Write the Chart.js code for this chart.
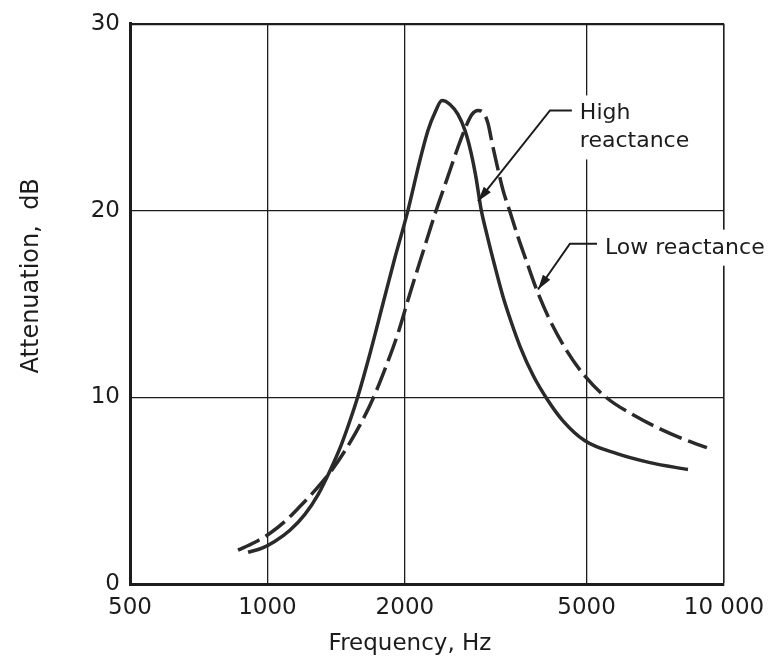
<!DOCTYPE html>
<html>
<head>
<meta charset="utf-8">
<script src="https://cdn.jsdelivr.net/npm/chart.js@4.4.1/dist/chart.umd.min.js"></script>
<style>
  html, body { margin: 0; padding: 0; background: #ffffff; }
  #wrap { width: 780px; height: 660px; }
</style>
</head>
<body>
<div id="wrap"><canvas id="c" width="780" height="660"></canvas></div>
<script>
// ---------- data ----------
const xTicks = [500, 1000, 2000, 5000, 10000];
const xTickLabels = ['500', '1000', '2000', '5000', '10 000'];
const yTicks = [0, 10, 20, 30];

// High reactance (solid curve)
const highFreq = [907, 973, 1039, 1120, 1208, 1291, 1371, 1449, 1516, 1579, 1678, 1791, 1902, 2022, 2158, 2247, 2328, 2412,
                  2511, 2614, 2708, 2791, 2862, 2936, 3026, 3150, 3280, 3415, 3574, 3815, 4095, 4439, 4960, 5829, 6885, 8338];
const highDb   = [1.70, 1.92, 2.29, 2.88, 3.73, 4.79, 6.07, 7.41, 8.74, 10.07, 12.36, 15.02, 17.47, 19.82, 22.70, 24.29, 25.25, 25.89,
                  25.68, 25.15, 24.29, 23.12, 21.79, 20.09, 18.70, 17.00, 15.40, 14.07, 12.73, 11.19, 9.91, 8.74, 7.67, 6.98, 6.50, 6.13];

// Low reactance (dashed curve)
const lowFreq = [862, 939, 1013, 1093, 1179, 1271, 1371, 1479, 1595, 1694, 1809, 1932, 2052, 2192, 2328, 2473, 2614, 2722, 2805, 2891,
                 2980, 3041, 3103, 3183, 3280, 3398, 3538, 3702, 3893, 4158, 4530, 4960, 5540, 6320, 7240, 8213, 9175];
const lowDb   = [1.81, 2.24, 2.72, 3.36, 4.16, 5.01, 5.97, 7.14, 8.52, 9.80, 11.51, 13.43, 15.56, 17.79, 19.82, 21.68, 23.39, 24.51, 25.15, 25.36,
                 25.20, 24.67, 23.65, 22.43, 21.10, 19.93, 18.59, 17.21, 15.72, 14.12, 12.47, 11.13, 9.96, 9.06, 8.31, 7.73, 7.30];

const seriesNames = ['High reactance', 'Low reactance'];
const xTitle = 'Frequency, Hz';
const yTitle = 'Attenuation,  dB';

// annotation anchors (data coordinates)
const annotations = [
  { lines: ['High', 'reactance'], tip: [2892, 20.5], elbow: [4158, 25.36], text: [4834, 24.88] },
  { lines: ['Low reactance'],      tip: [3914, 15.77], elbow: [4597, 18.22], text: [5487, 17.69] }
];

// ---------- styling ----------
const INK = '#1c1c1c';
const CURVE = '#2a2a2a';
const FONT = "'DejaVu Sans', sans-serif";
Chart.defaults.font.family = FONT;
Chart.defaults.color = INK;

function pts(xs, ys) { return xs.map((x, i) => ({ x: x, y: ys[i] })); }

const annotationPlugin = {
  id: 'annot',
  beforeDatasetsDraw(chart) {
    const ctx = chart.ctx;
    const xs = chart.scales.x, ys = chart.scales.y;
    ctx.save();
    ctx.font = '22px ' + FONT;
    ctx.fillStyle = '#ffffff';
    annotations.forEach(a => {
      const tx = xs.getPixelForValue(a.text[0]);
      const ty = ys.getPixelForValue(a.text[1]);
      let w = 0;
      a.lines.forEach(l => { w = Math.max(w, ctx.measureText(l).width); });
      const h = a.lines.length * 28;
      ctx.fillRect(tx - 4, ty - 24, w + 8, h + 8);
    });
    ctx.restore();
  },
  afterDatasetsDraw(chart) {
    const ctx = chart.ctx;
    const xs = chart.scales.x, ys = chart.scales.y;
    const ca = chart.chartArea;
    ctx.save();
    ctx.fillStyle = INK;
    ctx.strokeStyle = INK;
    ctx.lineWidth = 2;
    ctx.font = '22px ' + FONT;
    ctx.textAlign = 'left';
    ctx.textBaseline = 'alphabetic';
    annotations.forEach(a => {
      const tx = xs.getPixelForValue(a.text[0]);
      const ty = ys.getPixelForValue(a.text[1]);
      a.lines.forEach((l, i) => ctx.fillText(l, tx, ty + i * 28));
      const ex = xs.getPixelForValue(a.elbow[0]);
      const ey = ys.getPixelForValue(a.elbow[1]);
      const px = xs.getPixelForValue(a.tip[0]);
      const py = ys.getPixelForValue(a.tip[1]);
      ctx.beginPath();
      ctx.moveTo(tx - 8, ey);
      ctx.lineTo(ex, ey);
      ctx.lineTo(px, py);
      ctx.stroke();
      // arrow head
      const ang = Math.atan2(py - ey, px - ex);
      const L = 15, W = 4.5;
      ctx.beginPath();
      ctx.moveTo(px, py);
      ctx.lineTo(px - L * Math.cos(ang) + W * Math.sin(ang), py - L * Math.sin(ang) - W * Math.cos(ang));
      ctx.lineTo(px - L * Math.cos(ang) - W * Math.sin(ang), py - L * Math.sin(ang) + W * Math.cos(ang));
      ctx.closePath();
      ctx.fill();
    });
    // axis titles
    ctx.font = '23px ' + FONT;
    ctx.textAlign = 'center';
    ctx.fillText(xTitle, ca.left + 280, ca.bottom + 66);
    ctx.font = '24px ' + FONT;
    ctx.translate(ca.left - 92, ca.top + 252);
    ctx.rotate(-Math.PI / 2);
    ctx.fillText(yTitle, 0, 0);
    ctx.restore();
  }
};

new Chart(document.getElementById('c'), {
  type: 'line',
  data: {
    datasets: [
      {
        label: seriesNames[0],
        data: pts(highFreq, highDb),
        borderColor: CURVE,
        borderWidth: 3.5,
        pointRadius: 0,
        fill: false,
        cubicInterpolationMode: 'monotone'
      },
      {
        label: seriesNames[1],
        data: pts(lowFreq, lowDb),
        borderColor: CURVE,
        borderWidth: 3.5,
        borderDash: [24, 7],
        pointRadius: 0,
        fill: false,
        cubicInterpolationMode: 'monotone'
      }
    ]
  },
  options: {
    responsive: false,
    animation: false,
    devicePixelRatio: 1,
    layout: { padding: { top: 20, right: 56, left: 0, bottom: 0 } },
    plugins: {
      legend: { display: false },
      tooltip: { enabled: false },
      title: { display: false }
    },
    scales: {
      x: {
        type: 'logarithmic',
        min: 500,
        max: 10000,
        afterBuildTicks: (axis) => { axis.ticks = xTicks.map(v => ({ value: v })); },
        afterFit: (axis) => { axis.height = 76; },
        ticks: {
          autoSkip: false,
          maxRotation: 0,
          padding: 10,
          color: INK,
          font: { size: 23 },
          callback: (v) => { const i = xTicks.indexOf(v); return i >= 0 ? xTickLabels[i] : ''; }
        },
        grid: {
          drawTicks: false,
          color: (c) => (c.tick && c.tick.value === 500) ? 'rgba(0,0,0,0)' : INK,
          lineWidth: (c) => (c.tick && c.tick.value === 10000) ? 1.6 : 1.3
        },
        border: { display: true, color: INK, width: 3 }
      },
      y: {
        type: 'linear',
        min: 0,
        max: 30,
        afterBuildTicks: (axis) => { axis.ticks = yTicks.map(v => ({ value: v })); },
        afterFit: (axis) => { axis.width = 130; },
        ticks: {
          padding: 10,
          color: INK,
          font: { size: 23 }
        },
        grid: {
          drawTicks: false,
          color: (c) => (c.tick && c.tick.value === 0) ? 'rgba(0,0,0,0)' : INK,
          lineWidth: (c) => (c.tick && c.tick.value === 30) ? 2.2 : 1.3
        },
        border: { display: true, color: INK, width: 3 }
      }
    }
  },
  plugins: [annotationPlugin]
});
</script>
</body>
</html>
